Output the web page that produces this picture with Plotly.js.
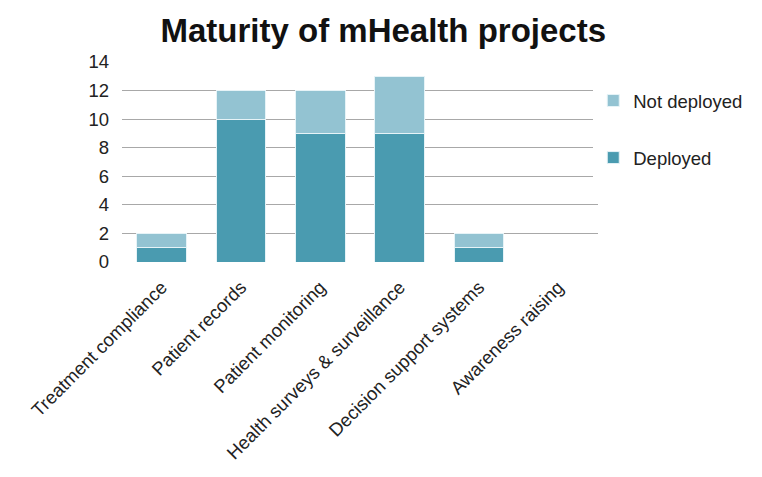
<!DOCTYPE html>
<html>
<head>
<meta charset="utf-8">
<script src="https://cdn.plot.ly/plotly-3.0.1.min.js"></script>
<style>html,body{margin:0;padding:0;background:#fff;}#chart{width:762px;height:477px;}</style>
</head>
<body>
<div id="chart"></div>
<script>
var categories = ["Treatment compliance", "Patient records", "Patient monitoring", "Health surveys & surveillance", "Decision support systems", "Awareness raising"];
var deployed = [1, 10, 9, 9, 1, 0];
var notDeployed = [1, 2, 3, 4, 1, 0];
var yTicks = [0, 2, 4, 6, 8, 10, 12, 14];

var traces = [
  {type: 'bar', name: 'Deployed', x: categories, y: deployed, legendgroup: 'd', legendrank: 2,
   marker: {color: '#4a9bb0', line: {color: '#e6f3f7', width: 1}}},
  {type: 'bar', name: 'Not deployed', x: categories, y: notDeployed, legendgroup: 'n', legendrank: 1,
   marker: {color: '#93c3d2', line: {color: '#e6f3f7', width: 1}}}
];

var layout = {
  width: 762, height: 477,
  barmode: 'stack', bargap: 0.37,
  margin: {l: 122, r: 164, t: 62, b: 215},
  paper_bgcolor: '#fff', plot_bgcolor: '#fff',
  font: {family: 'Liberation Sans, Arial, sans-serif', color: '#222'},
  title: {text: '<b>Maturity of mHealth projects</b>', x: 0.503, xref: 'container', y: 0.937, yref: 'container', yanchor: 'middle',
          font: {size: 33, color: '#111'}},
  xaxis: {tickangle: -45, tickfont: {size: 18.5}, showgrid: false, zeroline: false, showline: false, ticks: '', ticklabelstandoff: 10},
  yaxis: {range: [0, 14], tickvals: yTicks, tickfont: {size: 18.5}, showgrid: true, gridcolor: '#a8a8a8', gridwidth: 1,
          zeroline: false, showline: false, ticks: '', ticklen: 0, automargin: false, ticklabelstandoff: 12},
  showlegend: true,
  legend: {x: 0.99, xanchor: 'left', y: 0.90, yanchor: 'top', traceorder: 'grouped', tracegroupgap: 30,
           font: {size: 18.5}, itemwidth: 30},
  bargroupgap: 0
};
Plotly.newPlot('chart', traces, layout, {displayModeBar: false, staticPlot: true});
</script>
</body>
</html>
